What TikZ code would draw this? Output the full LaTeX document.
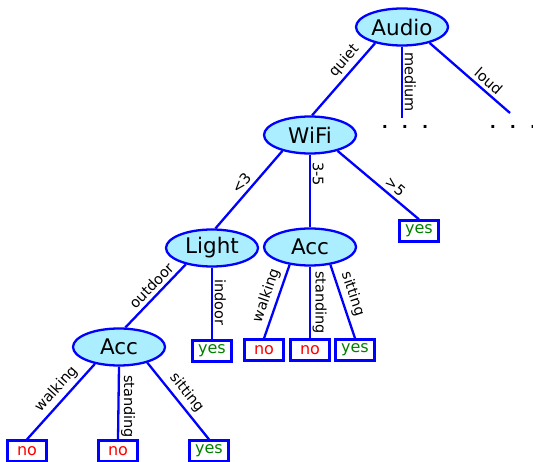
\documentclass[tikz,border=0pt]{standalone}
\usepackage{fontspec}
\setmainfont{DejaVu Sans}
\usetikzlibrary{shapes}
\definecolor{lightcyan}{RGB}{170,238,255}
\definecolor{leafgreen}{RGB}{0,128,0}

\begin{document}
\begin{tikzpicture}[x=1pt,y=-1pt]
\tikzstyle{attr}=[draw=blue, ellipse, fill=lightcyan, line width=2.3pt, minimum width=92pt, minimum height=37pt, inner sep=0pt, font=\fontsize{21.5}{21.5}\selectfont]
\tikzstyle{leaf}=[draw=blue, rectangle, fill=white, line width=2.3pt, minimum width=39pt, minimum height=21pt, inner sep=0pt, font=\fontsize{16}{16}\selectfont]
\tikzstyle{branch}=[color=blue, line width=2.3pt]
\tikzstyle{lbl}=[font=\fontsize{14.5}{14.5}\selectfont, sloped, above, inner sep=3.5pt, text=black]
\tikzstyle{vlbl}=[font=\fontsize{14.5}{14.5}\selectfont, rotate=-90, anchor=south, inner sep=1.5pt, text=black]
\tikzstyle{more}=[font=\bfseries\fontsize{16}{16}\selectfont, inner sep=0pt]

\useasboundingbox (0,0) rectangle (533,462);

% attributes
\node[attr] (audio) at (402,27) {Audio};
\node[attr] (wifi) at (310,135) {WiFi};
\node[attr] (light) at (212,248) {Light};
\node[attr] (accmid) at (310,247) {Acc};
\node[attr] (accbot) at (119,347) {Acc};

% leaves
\node[leaf, text=leafgreen] (yesfar) at (419,231) {yes};
\node[leaf, text=leafgreen] (yesin) at (212,351) {yes};
\node[leaf, text=red] (nowalk) at (264,350) {no};
\node[leaf, text=red] (nostand) at (310,350) {no};
\node[leaf, text=leafgreen] (yessit) at (355,350) {yes};
\node[leaf, text=red] (nowalkb) at (27,451) {no};
\node[leaf, text=red] (nostandb) at (118,451) {no};
\node[leaf, text=leafgreen] (yessitb) at (209,451) {yes};

% unfinished branches
\coordinate (medend) at (402,118);
\coordinate (loudend) at (510,113);
\node[more] (meddots) at (405,127) {.\hspace{14pt}.\hspace{14pt}.};
\node[more] (louddots) at (513,127) {.\hspace{14pt}.\hspace{14pt}.};

\draw[branch] (audio.211) -- node[lbl, pos=0.35] {quiet} (wifi.84);
\draw[branch] (audio.south) -- node[vlbl, pos=0.5] {medium} (medend);
\draw[branch] (audio.330) -- node[lbl, pos=0.65] {loud} (loudend);

\draw[branch] (wifi.210) -- node[lbl, pos=0.5] {<3} (light.80);
\draw[branch] (wifi.south) -- node[vlbl, pos=0.27] {3-5} (accmid.north);
\draw[branch] (wifi.330) -- node[lbl, pos=0.63] {>5} (yesfar.north);

\draw[branch] (light.212) -- node[lbl, pos=0.45] {outdoor} (accbot.72);
\draw[branch] (light.south) -- node[vlbl, pos=0.48] {indoor} (yesin.north);

\draw[branch] (accmid.221) -- node[lbl, pos=0.47] {walking} (nowalk.north);
\draw[branch] (accmid.south) -- node[vlbl, pos=0.5] {standing} (nostand.north);
\draw[branch] (accmid.319) -- node[lbl, pos=0.45] {sitting} (yessit.north);

\draw[branch] (accbot.215) -- node[lbl, pos=0.44] {walking} (nowalkb.north);
\draw[branch] (accbot.south) -- node[vlbl, pos=0.55] {standing} (nostandb.north);
\draw[branch] (accbot.331) -- node[lbl, pos=0.49] {sitting} (yessitb.north);

\end{tikzpicture}
\end{document}
